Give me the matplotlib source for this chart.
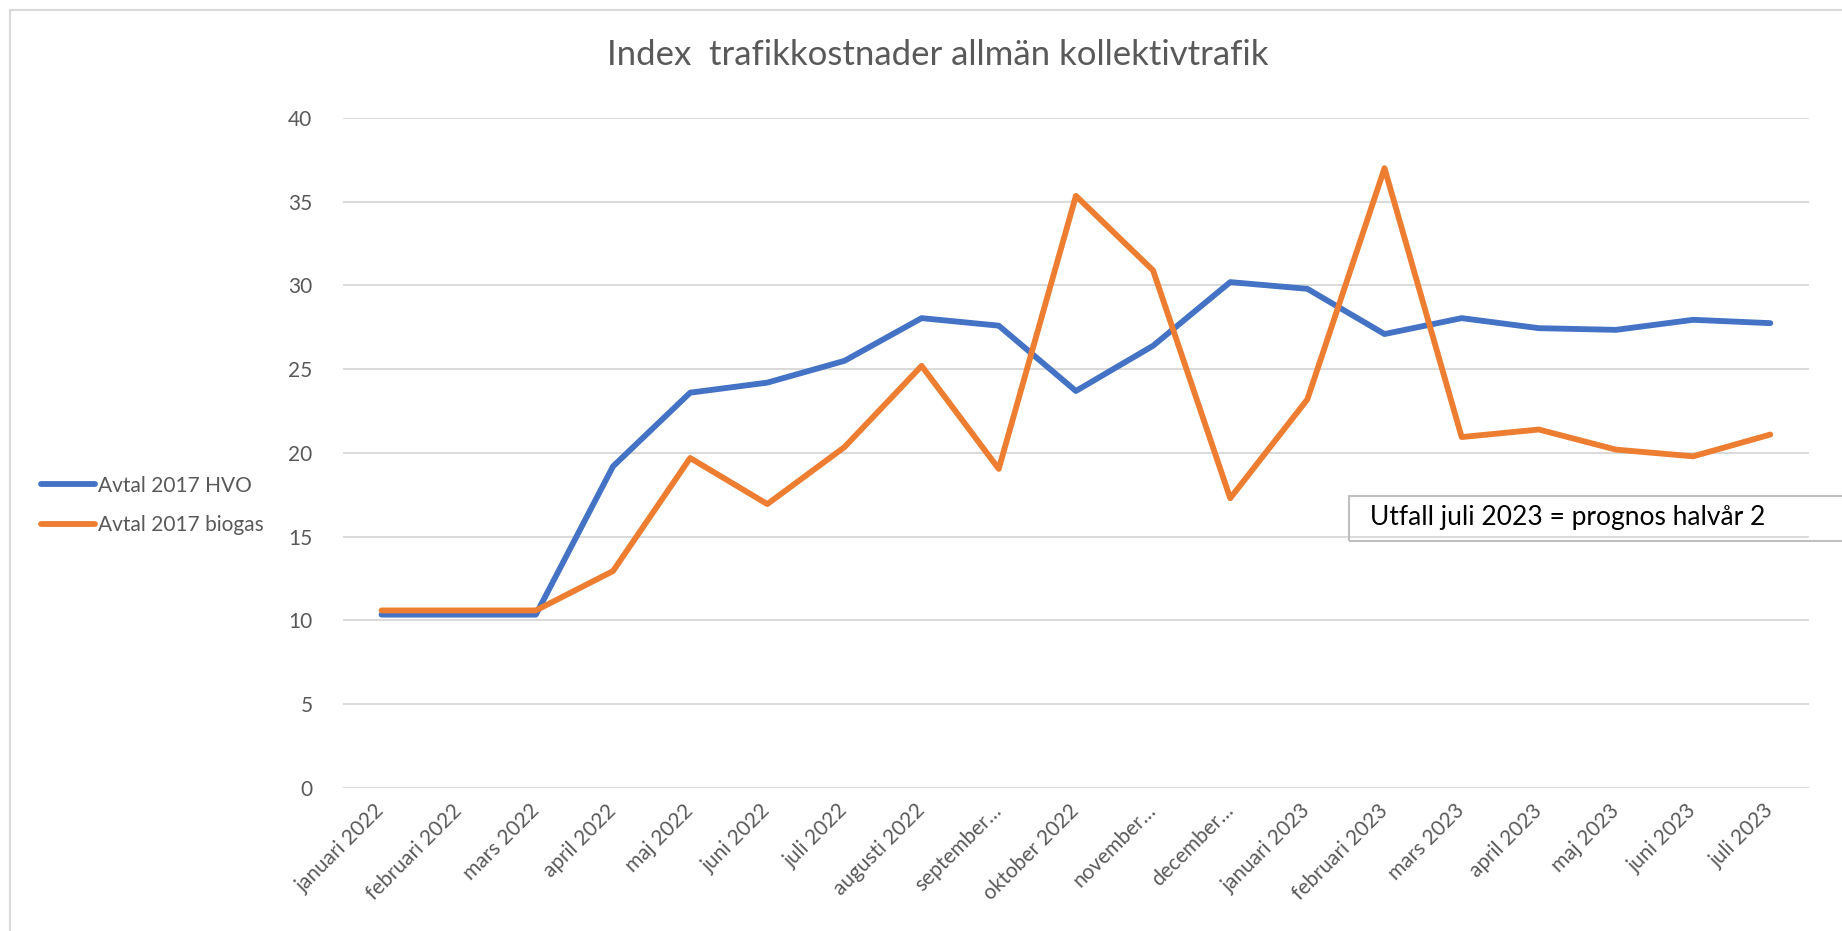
import matplotlib.pyplot as plt
from matplotlib.patches import Rectangle
from matplotlib.lines import Line2D

months = ['januari 2022', 'februari 2022', 'mars 2022', 'april 2022', 'maj 2022',
          'juni 2022', 'juli 2022', 'augusti 2022', 'september…', 'oktober 2022',
          'november…', 'december…', 'januari 2023', 'februari 2023', 'mars 2023',
          'april 2023', 'maj 2023', 'juni 2023', 'juli 2023']

hvo = [10.35, 10.35, 10.35, 19.2, 23.6, 24.2, 25.5, 28.05, 27.6, 23.7,
       26.4, 30.2, 29.8, 27.1, 28.05, 27.45, 27.35, 27.95, 27.75]
biogas = [10.6, 10.6, 10.6, 12.95, 19.7, 16.95, 20.35, 25.2, 19.05, 35.35,
          30.9, 17.3, 23.2, 37.0, 20.95, 21.4, 20.2, 19.8, 21.1]

series_names = ['Avtal 2017 HVO', 'Avtal 2017 biogas']
title = 'Index  trafikkostnader allmän kollektivtrafik'
note = 'Utfall juli 2023 = prognos halvår 2'

blue = '#4472C4'
orange = '#ED7D31'
grey = '#595959'

plt.rcParams['font.family'] = ['Lato', 'DejaVu Sans']

fig = plt.figure(figsize=(18.42, 9.31), dpi=100)
ax = fig.add_axes([0.1862, 0.1536, 0.7958, 0.7197])

x = range(len(months))
ax.plot(x, hvo, color=blue, lw=4.2, solid_capstyle='round', solid_joinstyle='round', zorder=3)
ax.plot(x, biogas, color=orange, lw=4.2, solid_capstyle='round', solid_joinstyle='round', zorder=3)

ax.set_xlim(-0.5, len(months) - 0.5)
ax.set_ylim(0, 40)
ax.set_yticks(range(0, 41, 5))
ax.grid(axis='y', color='#d9d9d9', lw=1.4)
ax.set_axisbelow(True)
for s in ax.spines.values():
    s.set_visible(False)
ax.tick_params(axis='both', length=0, colors=grey, labelsize=15)
ax.tick_params(axis='y', pad=22)
ax.set_xticks(list(x))
ax.set_xticklabels(months, rotation=45, ha='right', rotation_mode='anchor', va='center')
ax.tick_params(axis='x', pad=14)

fig.text(0.509, 0.941, title, ha='center', va='center', fontsize=25, color=grey)

# legend on the left
handles = [Line2D([], [], color=blue, lw=4.2, solid_capstyle='round'),
           Line2D([], [], color=orange, lw=4.2, solid_capstyle='round')]
fig.legend(handles, series_names, loc='center left', bbox_to_anchor=(0.012, 0.457),
           frameon=False, fontsize=15, labelcolor=grey, handlelength=2.6,
           handletextpad=0.15, labelspacing=0.95)

# note box
fig.text(1370 / 1842, 1 - 518 / 931, note, ha='left', va='center', fontsize=19, color='black')
fig.patches.append(Rectangle((1349 / 1842, 1 - 541 / 931), 0.3, 45 / 931,
                             transform=fig.transFigure, fill=False, edgecolor='#bfbfbf', lw=1.5))

# outer chart border (top and left)
fig.add_artist(Line2D([10 / 1842, 1], [1 - 10 / 931, 1 - 10 / 931], color='#d9d9d9', lw=1.5))
fig.add_artist(Line2D([10 / 1842, 10 / 1842], [0, 1 - 10 / 931], color='#d9d9d9', lw=1.5))

fig.savefig('out.png', dpi=100, facecolor='white')
